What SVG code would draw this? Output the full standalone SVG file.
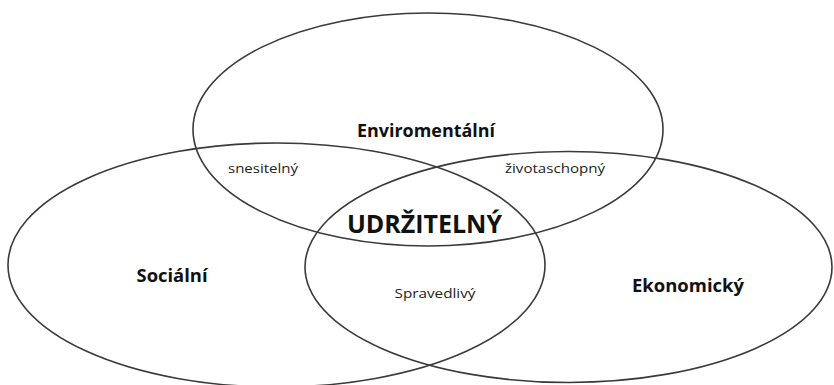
<svg xmlns="http://www.w3.org/2000/svg" width="834" height="385" viewBox="0 0 834 385">
<style>
  .ring { fill: none; stroke: #3a3a3a; stroke-width: 1.6; }
  .lbl { font-family: "Open Sans", "Liberation Sans", sans-serif; fill: #111; text-anchor: middle; }
  .b { font-weight: bold; font-size: 17px; }
  .s { font-size: 13.5px; fill: #222; }
  .big { font-weight: bold; font-size: 25px; }
</style>
<rect width="834" height="385" fill="#ffffff"/>
<g id="enviromentalni">
  <ellipse class="ring" cx="428" cy="129.5" rx="235" ry="116.5"/>
  <text class="lbl b" x="426" y="137" textLength="138" lengthAdjust="spacingAndGlyphs">Enviromentální</text>
</g>
<g id="socialni">
  <ellipse class="ring" cx="276.5" cy="265" rx="268.5" ry="122"/>
  <text class="lbl b" x="172" y="282" textLength="71" lengthAdjust="spacingAndGlyphs">Sociální</text>
</g>
<g id="ekonomicky">
  <ellipse class="ring" cx="568.5" cy="267" rx="263.5" ry="115.5"/>
  <text class="lbl b" x="688" y="292" textLength="112" lengthAdjust="spacingAndGlyphs">Ekonomický</text>
</g>
<g id="snesitelny">
  <text class="lbl s" x="263" y="173" textLength="70" lengthAdjust="spacingAndGlyphs">snesitelný</text>
</g>
<g id="zivotaschopny">
  <text class="lbl s" x="555" y="173" textLength="100" lengthAdjust="spacingAndGlyphs">životaschopný</text>
</g>
<g id="spravedlivy">
  <text class="lbl s" x="435" y="298" textLength="81" lengthAdjust="spacingAndGlyphs">Spravedlivý</text>
</g>
<g id="udrzitelny">
  <text class="lbl big" x="424.5" y="233" textLength="155" lengthAdjust="spacingAndGlyphs">UDRŽITELNÝ</text>
</g>
<g id="connectors"></g>
</svg>
